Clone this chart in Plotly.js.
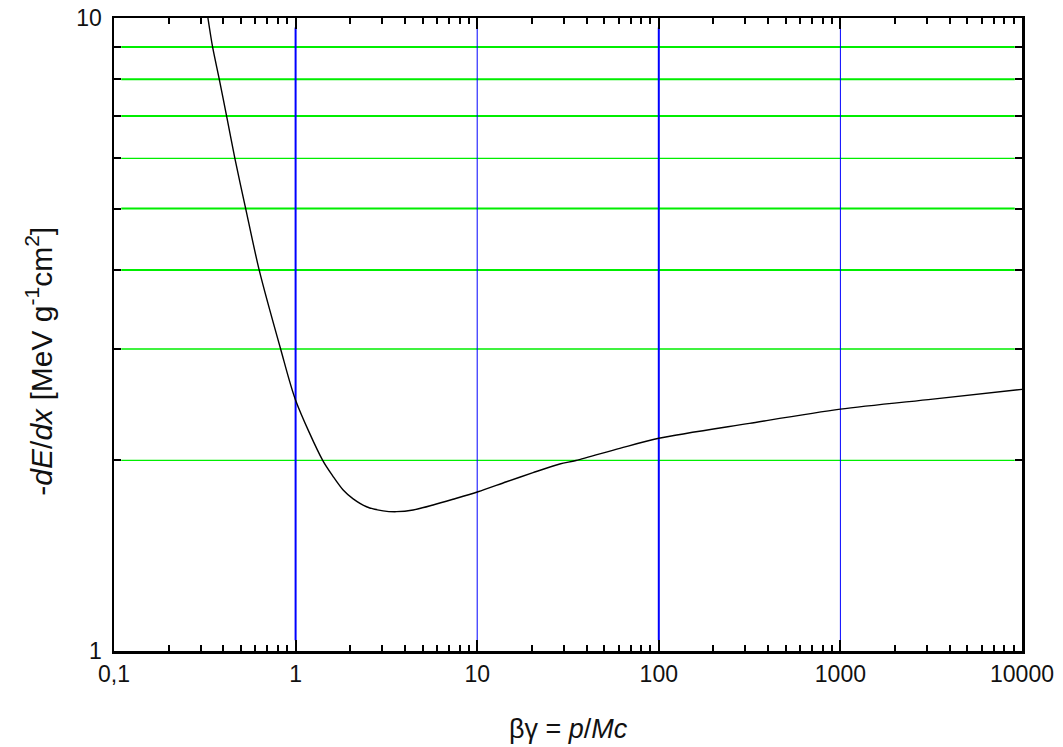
<!DOCTYPE html>
<html>
<head>
<meta charset="utf-8">
<script src="https://cdn.plot.ly/plotly-3.0.1.min.js"></script>
<style>html,body{margin:0;padding:0;background:#fff;}#chart{width:1063px;height:747px;}</style>
</head>
<body>
<div id="chart"></div>
<script>
// Curve values: beta*gamma and -dE/dx
const betaGamma = [0.329, 0.349, 0.380, 0.417, 0.463, 0.531, 0.630, 0.827, 1.0, 1.41, 1.61, 1.828, 2.075, 2.459, 3.034, 3.597, 4.439, 5.72, 7.37, 10.1, 14.5, 20.3, 28.5, 35, 61, 100, 316, 1000, 3230, 10000];
const dEdx      = [10.0,  9.0,   8.0,   7.0,   6.0,   5.0,   4.0,   3.0,   2.49, 2.0,  1.886, 1.796, 1.739, 1.690, 1.665, 1.660, 1.670, 1.701, 1.737, 1.785, 1.851, 1.913, 1.974, 2.0, 2.09, 2.168, 2.289, 2.41, 2.50, 2.59];

// Axis ticks
const xMajorTicks = [0.1, 1, 10, 100, 1000, 10000];
const xMajorLabels = ['0,1', '1', '10', '100', '1000', '10000'];
const yMajorTicks = [1, 10];
const yMajorLabels = ['1', '10'];
const yMinorTicks = [2, 3, 4, 5, 6, 7, 8, 9];

// Grid line positions
const greenLevels = [2, 3, 4, 5, 6, 7, 8, 9];
const greenWidths = [1.3, 1.5, 2, 2, 1.3, 2, 2, 2];
const blueLevels = [1, 10, 100, 1000];
const blueWidths = [2, 1, 2, 1];

const xMinorTicks = [];
for (let d = -1; d < 4; d++) {
  for (let m = 2; m <= 9; m++) xMinorTicks.push(+(m * Math.pow(10, d)).toPrecision(3));
}

const shapes = [];
greenLevels.forEach((v, i) => shapes.push({
  type: 'line', xref: 'paper', yref: 'y', x0: 0.008, x1: 0.992, y0: v, y1: v,
  line: {color: '#00ee00', width: greenWidths[i]}, layer: 'below'
}));
blueLevels.forEach((v, i) => shapes.push({
  type: 'line', xref: 'x', yref: 'paper', x0: v, x1: v, y0: 0.017, y1: 0.985,
  line: {color: '#0000ff', width: blueWidths[i]}, layer: 'below'
}));

const fam = 'Liberation Sans, Arial, sans-serif';
const font = {family: fam, size: 23, color: '#111'};

const trace = {
  x: betaGamma, y: dEdx, type: 'scatter', mode: 'lines',
  line: {color: '#000', width: 1.4, shape: 'spline', smoothing: 0.8},
  hoverinfo: 'skip'
};

const layout = {
  width: 1063, height: 747,
  margin: {l: 114, r: 41, t: 18, b: 96},
  paper_bgcolor: '#fff', plot_bgcolor: '#fff',
  showlegend: false,
  font: font,
  xaxis: {
    type: 'log', range: [-1, 4],
    tickmode: 'array', tickvals: xMajorTicks, ticktext: xMajorLabels,
    ticks: 'inside', ticklen: 11, tickwidth: 2, tickcolor: '#000',
    showline: true, linecolor: '#000', linewidth: 2.5, mirror: 'allticks',
    showgrid: false, zeroline: false,
    tickfont: font, ticklabelstandoff: 1,
    minor: {tickmode: 'array', tickvals: xMinorTicks, ticks: 'inside', ticklen: 6, tickwidth: 2, tickcolor: '#000', showgrid: false}
  },
  yaxis: {
    type: 'log', range: [0, 1],
    tickmode: 'array', tickvals: yMajorTicks, ticktext: yMajorLabels,
    ticks: 'inside', ticklen: 7, tickwidth: 2, tickcolor: '#000',
    showline: true, linecolor: '#000', linewidth: 2.5, mirror: 'allticks',
    showgrid: false, zeroline: false,
    tickfont: font, ticklabelstandoff: 5,
    minor: {tickmode: 'array', tickvals: yMinorTicks, ticks: 'inside', ticklen: 7, tickwidth: 2, tickcolor: '#000', showgrid: false}
  },
  shapes: shapes,
  annotations: [{
    text: '-<i>dE</i>/<i>dx</i> [MeV g<sup>-1</sup>cm<sup>2</sup>]',
    xref: 'paper', yref: 'paper', x: -0.082, y: 0.458,
    xanchor: 'center', yanchor: 'middle', textangle: -90,
    showarrow: false, font: {family: fam, size: 30, color: '#111'}
  }, {
    text: 'βγ = <i>p</i>/<i>Mc</i>',
    xref: 'paper', yref: 'paper', x: 0.5, y: -0.123,
    xanchor: 'center', yanchor: 'middle',
    showarrow: false, font: {family: fam, size: 27, color: '#111'}
  }]
};

Plotly.newPlot('chart', [trace], layout, {displayModeBar: false, staticPlot: true});
</script>
</body>
</html>
